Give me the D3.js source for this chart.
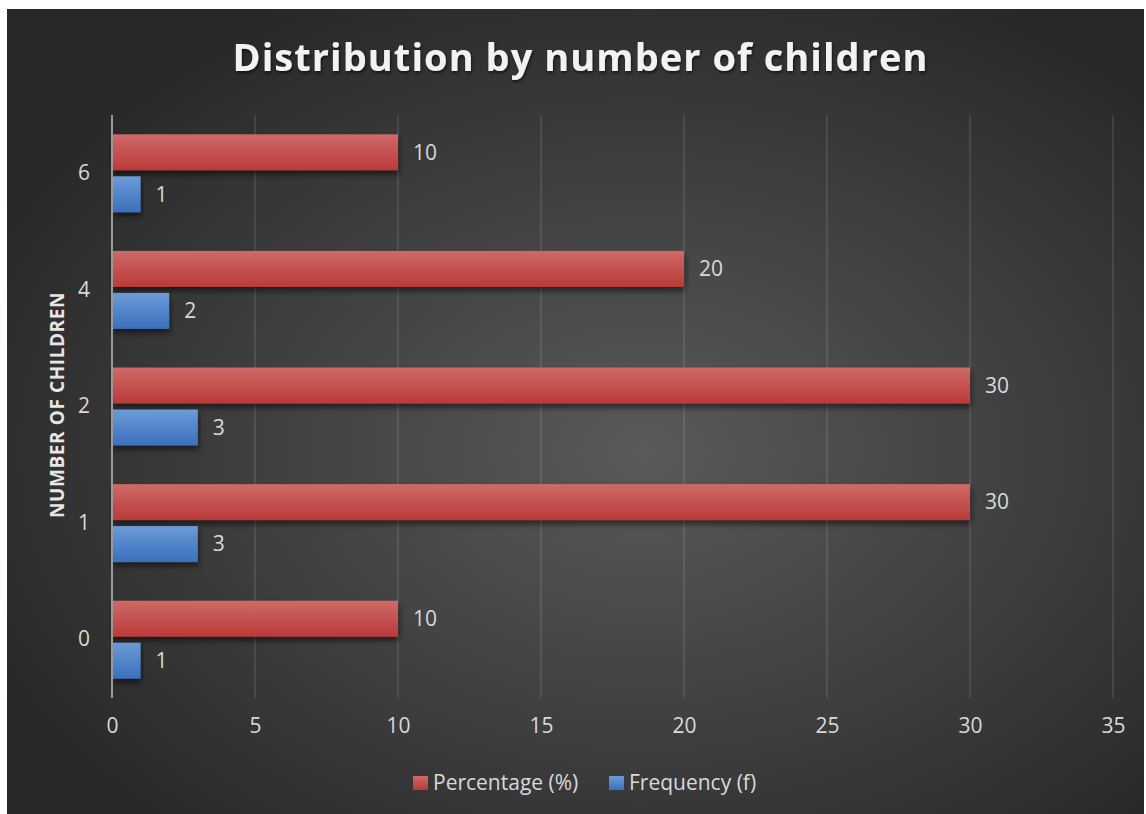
<!DOCTYPE html>
<html>
<head>
<meta charset="utf-8">
<script src="https://cdn.jsdelivr.net/npm/d3@7"></script>
<style>
  html, body { margin: 0; padding: 0; background: #ffffff; }
  svg { display: block; font-family: "Open Sans", "Noto Sans", sans-serif; }
</style>
</head>
<body>
<div id="graph"></div>
<script>
// data
var categories  = ["6", "4", "2", "1", "0"];
var seriesNames = ["Percentage (%)", "Frequency (f)"];
var percentage  = [10, 20, 30, 30, 10];
var frequency   = [1, 2, 3, 3, 1];
var xTicks      = [0, 5, 10, 15, 20, 25, 30, 35];

var W = 1146, H = 814;
var margin = { top: 115, right: 33, bottom: 116, left: 112 },
    width  = W - margin.left - margin.right,
    height = H - margin.top  - margin.bottom;

var svg = d3.select("#graph")
  .append("svg")
    .attr("width", W)
    .attr("height", H);

var defs = svg.append("defs");

// background gradient
var bg = defs.append("radialGradient")
  .attr("id", "bg")
  .attr("cx", "56%").attr("cy", "55%").attr("r", "64%");
bg.append("stop").attr("offset", "0%").attr("stop-color", "#5a5a5a");
bg.append("stop").attr("offset", "100%").attr("stop-color", "#282828");

// bar gradients
function barGrad(id, top, bottom) {
  var g = defs.append("linearGradient")
    .attr("id", id).attr("x1", 0).attr("y1", 0).attr("x2", 0).attr("y2", 1);
  g.append("stop").attr("offset", "0%").attr("stop-color", top);
  g.append("stop").attr("offset", "100%").attr("stop-color", bottom);
}
barGrad("gradRed",  "#ce6a68", "#bb3a38");
barGrad("gradBlue", "#6c9bd7", "#3a6fbd");

var shadow = defs.append("filter").attr("id", "shadow")
  .attr("x", "-5%").attr("y", "-30%").attr("width", "115%").attr("height", "180%");
shadow.append("feDropShadow")
  .attr("dx", 1).attr("dy", 4).attr("stdDeviation", 3)
  .attr("flood-color", "#000").attr("flood-opacity", 0.55);

var tshadow = defs.append("filter").attr("id", "tshadow");
tshadow.append("feDropShadow")
  .attr("dx", 1).attr("dy", 2).attr("stdDeviation", 1.5)
  .attr("flood-color", "#000").attr("flood-opacity", 0.6);

svg.append("rect")
  .attr("x", 7).attr("y", 9)
  .attr("width", W - 9).attr("height", H - 9)
  .attr("fill", "url(#bg)");

var g = svg.append("g")
  .attr("transform", `translate(${margin.left}, ${margin.top})`);

// scales
var x = d3.scaleLinear().domain([0, 35]).range([0, 1001]);
var y = d3.scaleBand().domain(categories).range([0, height]);
var sub = d3.scaleBand().domain(seriesNames).range([0, y.bandwidth()])
  .paddingInner(0.143).paddingOuter(0.46);

var colors = { "Percentage (%)": "url(#gradRed)", "Frequency (f)": "url(#gradBlue)" };

var labelFont = "21px";

// gridlines
g.append("g").selectAll("line")
  .data(xTicks.filter(t => t > 0))
  .enter().append("line")
    .attr("x1", d => x(d)).attr("x2", d => x(d))
    .attr("y1", 0).attr("y2", height)
    .attr("stroke", "#ffffff").attr("stroke-opacity", 0.13)
    .attr("stroke-width", 1.5);

// x tick labels
var xAxisG = g.append("g")
  .attr("transform", `translate(0, ${height})`)
  .call(d3.axisBottom(x).tickValues(xTicks).tickSize(0).tickPadding(20));
xAxisG.select(".domain").remove();
xAxisG.selectAll("text")
  .attr("fill", "#d9d9d9")
  .style("font-size", labelFont)
  .style("font-family", "'Open Sans', sans-serif");

// y axis
var yAxisG = g.append("g")
  .call(d3.axisLeft(y).tickSize(0).tickPadding(22));
yAxisG.select(".domain").remove();
yAxisG.selectAll("text")
  .attr("fill", "#d9d9d9")
  .style("font-size", labelFont)
  .style("font-family", "'Open Sans', sans-serif");

// bars
var rows = categories.map((c, i) => ({
  cat: c,
  values: [
    { series: seriesNames[0], value: percentage[i] },
    { series: seriesNames[1], value: frequency[i] }
  ]
}));

var groups = g.selectAll(".cat")
  .data(rows)
  .enter().append("g")
    .attr("class", "cat")
    .attr("transform", d => `translate(0, ${y(d.cat)})`);

groups.selectAll("rect")
  .data(d => d.values)
  .enter().append("rect")
    .attr("x", x(0))
    .attr("y", d => sub(d.series))
    .attr("width", d => x(d.value) - x(0))
    .attr("height", sub.bandwidth())
    .attr("fill", d => colors[d.series])
    .attr("filter", "url(#shadow)");

groups.selectAll(".lbl")
  .data(d => d.values)
  .enter().append("text")
    .attr("class", "lbl")
    .attr("x", d => x(d.value) + 15)
    .attr("y", d => sub(d.series) + sub.bandwidth() / 2)
    .attr("dy", "0.35em")
    .attr("fill", "#d9d9d9")
    .style("font-size", labelFont)
    .text(d => d.value);

// vertical axis line
g.append("line")
  .attr("x1", x(0)).attr("x2", x(0))
  .attr("y1", 0).attr("y2", height)
  .attr("stroke", "#9a9a9a").attr("stroke-width", 2);

// title
var title = svg.append("text")
  .attr("x", 580).attr("y", 71)
  .attr("text-anchor", "middle")
  .attr("fill", "#f2f2f2")
  .attr("filter", "url(#tshadow)")
  .style("font-size", "38px")
  .style("font-weight", "bold")
  .text("Distribution by number of children");
var tw = title.node().getComputedTextLength();
var chars = title.text().length;
title.style("letter-spacing", ((696 - tw) / chars) + "px")
  .attr("x", 580 + ((696 - tw) / chars) / 2);

// y axis title
var yTitle = svg.append("text")
  .attr("transform", "translate(64, 405) rotate(-90)")
  .attr("text-anchor", "middle")
  .attr("fill", "#e6e6e6")
  .style("font-size", "19px")
  .style("font-weight", "bold")
  .text("NUMBER OF CHILDREN");
var yw = yTitle.node().getComputedTextLength();
var ych = yTitle.text().length;
yTitle.style("letter-spacing", ((226 - yw) / ych) + "px");

// legend
var legend = svg.append("g").attr("transform", "translate(413, 783)");
var lx = [0, 196];
seriesNames.forEach((s, i) => {
  var lg = legend.append("g").attr("transform", `translate(${lx[i]}, 0)`);
  lg.append("rect")
    .attr("x", 0).attr("y", -7)
    .attr("width", 15).attr("height", 14)
    .attr("fill", colors[s]);
  lg.append("text")
    .attr("x", 20).attr("y", 0)
    .attr("dy", "0.35em")
    .attr("fill", "#d9d9d9")
    .style("font-size", labelFont)
    .text(s);
});
</script>
</body>
</html>
